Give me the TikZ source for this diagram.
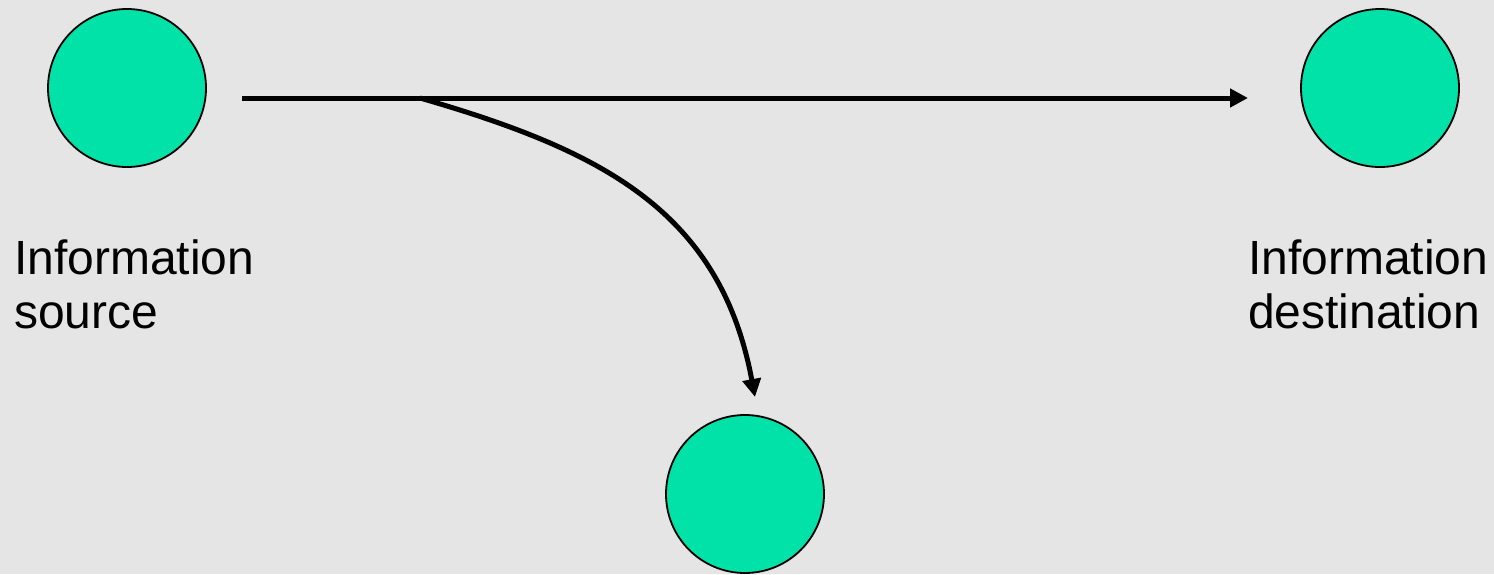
\documentclass[tikz,border=0pt]{standalone}
\usepackage{fontspec}
\setmainfont{Liberation Sans}
\usetikzlibrary{arrows.meta}
\definecolor{bg}{RGB}{229,229,229}
\definecolor{disc}{RGB}{0,226,168}
\begin{document}
\begin{tikzpicture}[x=1pt,y=-1pt,
  dot/.style={circle,draw=black,line width=1.8pt,fill=disc,minimum size=158pt,inner sep=0pt},
  lbl/.style={align=left,font=\fontsize{48}{54}\selectfont,inner sep=0pt,anchor=base west},
  flow/.style={line width=5pt,-{Triangle[length=18pt,width=18pt]}}]
\fill[bg] (0,0) rectangle (1494,574);
\useasboundingbox (0,0) rectangle (1494,574);
\node[dot] (src) at (127,88) {};
\node[dot] (dst) at (1380,88) {};
\node[dot] (mid) at (745,494) {};
\node[lbl] (srcl) at (14,328) {Information\\source};
\node[lbl] (dstl) at (1248,328) {Information\\destination};
\coordinate (s) at (242,98);
\coordinate (e) at (1248,98);
\coordinate (b) at (420,98);
\coordinate (t) at (755,397);
\draw[flow] (s) -- (e);
\draw[flow] (b) .. controls (600,150) and (720,210) .. (t);
\end{tikzpicture}
\end{document}
